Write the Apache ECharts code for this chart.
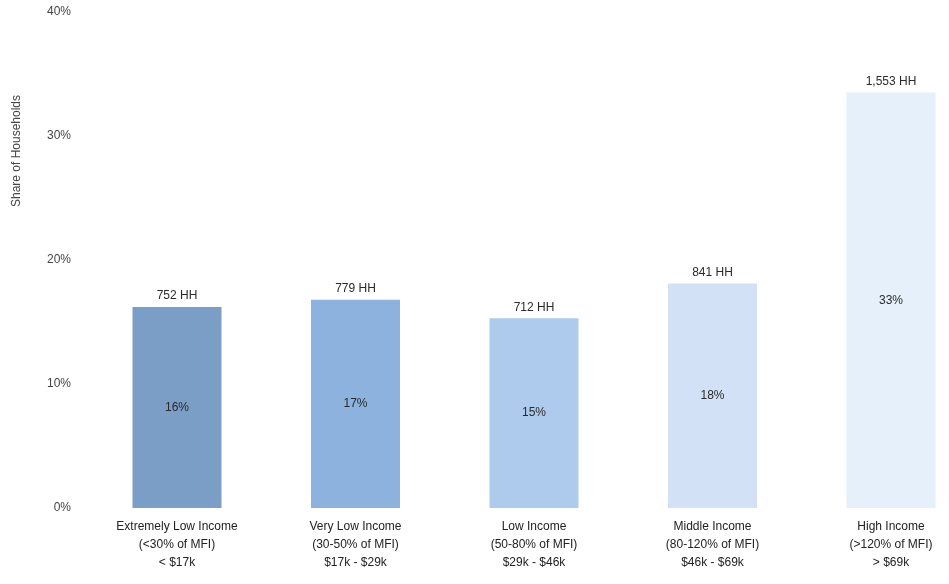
<!DOCTYPE html>
<html>
<head>
<meta charset="utf-8">
<script src="https://cdn.jsdelivr.net/npm/echarts@6/dist/echarts.min.js"></script>
<style>
  html, body { margin: 0; padding: 0; background: #fff; }
  #chart { width: 949px; height: 584px; }
</style>
</head>
<body>
<div id="chart"></div>
<script>
const categories = [
  'Extremely Low Income\n(<30% of MFI)\n< $17k',
  'Very Low Income\n(30-50% of MFI)\n$17k - $29k',
  'Low Income\n(50-80% of MFI)\n$29k - $46k',
  'Middle Income\n(80-120% of MFI)\n$46k - $69k',
  'High Income\n(>120% of MFI)\n> $69k'
]
const shareValues = [16.2, 16.8, 15.3, 18.1, 33.5]
const pctLabels = ['16%', '17%', '15%', '18%', '33%']
const hhLabels = ['752 HH', '779 HH', '712 HH', '841 HH', '1,553 HH']
const barColors = ['#7b9ec6', '#8cb2dd', '#aecbed', '#d2e1f5', '#e6f0fa']
const yTicks = [0, 10, 20, 30, 40]

const font = 'Liberation Sans, Arial, sans-serif'

const chart = echarts.init(document.getElementById('chart'))

const option = {
  animation: false,
  textStyle: { fontFamily: font },
  grid: {
    left: 177,
    right: 58,
    top: 12,
    bottom: 76
  },
  graphic: [{
    type: 'text',
    x: 17,
    y: 151,
    rotation: Math.PI / 2,
    style: {
      text: 'Share of Households',
      fill: '#444',
      font: '12px ' + font,
      align: 'center',
      verticalAlign: 'middle'
    }
  }],
  xAxis: {
    type: 'category',
    boundaryGap: false,
    data: categories,
    axisLine: { show: false },
    axisTick: { show: false },
    axisLabel: {
      color: '#222',
      fontSize: 12,
      lineHeight: 18,
      margin: 10,
      interval: 0
    }
  },
  yAxis: {
    type: 'value',
    min: yTicks[0],
    max: yTicks[yTicks.length - 1],
    interval: 10,
    offset: 98,
    axisLine: { show: false },
    axisTick: { show: false },
    splitLine: { show: false },
    axisLabel: {
      color: '#444',
      fontSize: 12,
      formatter: v => v + '%'
    }
  },
  series: [{
    type: 'bar',
    barWidth: 89,
    clip: false,
    data: shareValues.map((v, i) => ({ value: v, itemStyle: { color: barColors[i] } })),
    label: {
      show: true,
      position: 'top',
      distance: 5,
      color: '#2a2a2a',
      fontSize: 12,
      formatter: p => hhLabels[p.dataIndex]
    }
  }, {
    type: 'bar',
    barWidth: 89,
    barGap: '-100%',
    clip: false,
    silent: true,
    data: shareValues,
    itemStyle: { color: 'rgba(0,0,0,0)' },
    label: {
      show: true,
      position: 'inside',
      color: '#2a2a2a',
      fontSize: 12,
      formatter: p => pctLabels[p.dataIndex]
    }
  }]
}

chart.setOption(option)
</script>
</body>
</html>
